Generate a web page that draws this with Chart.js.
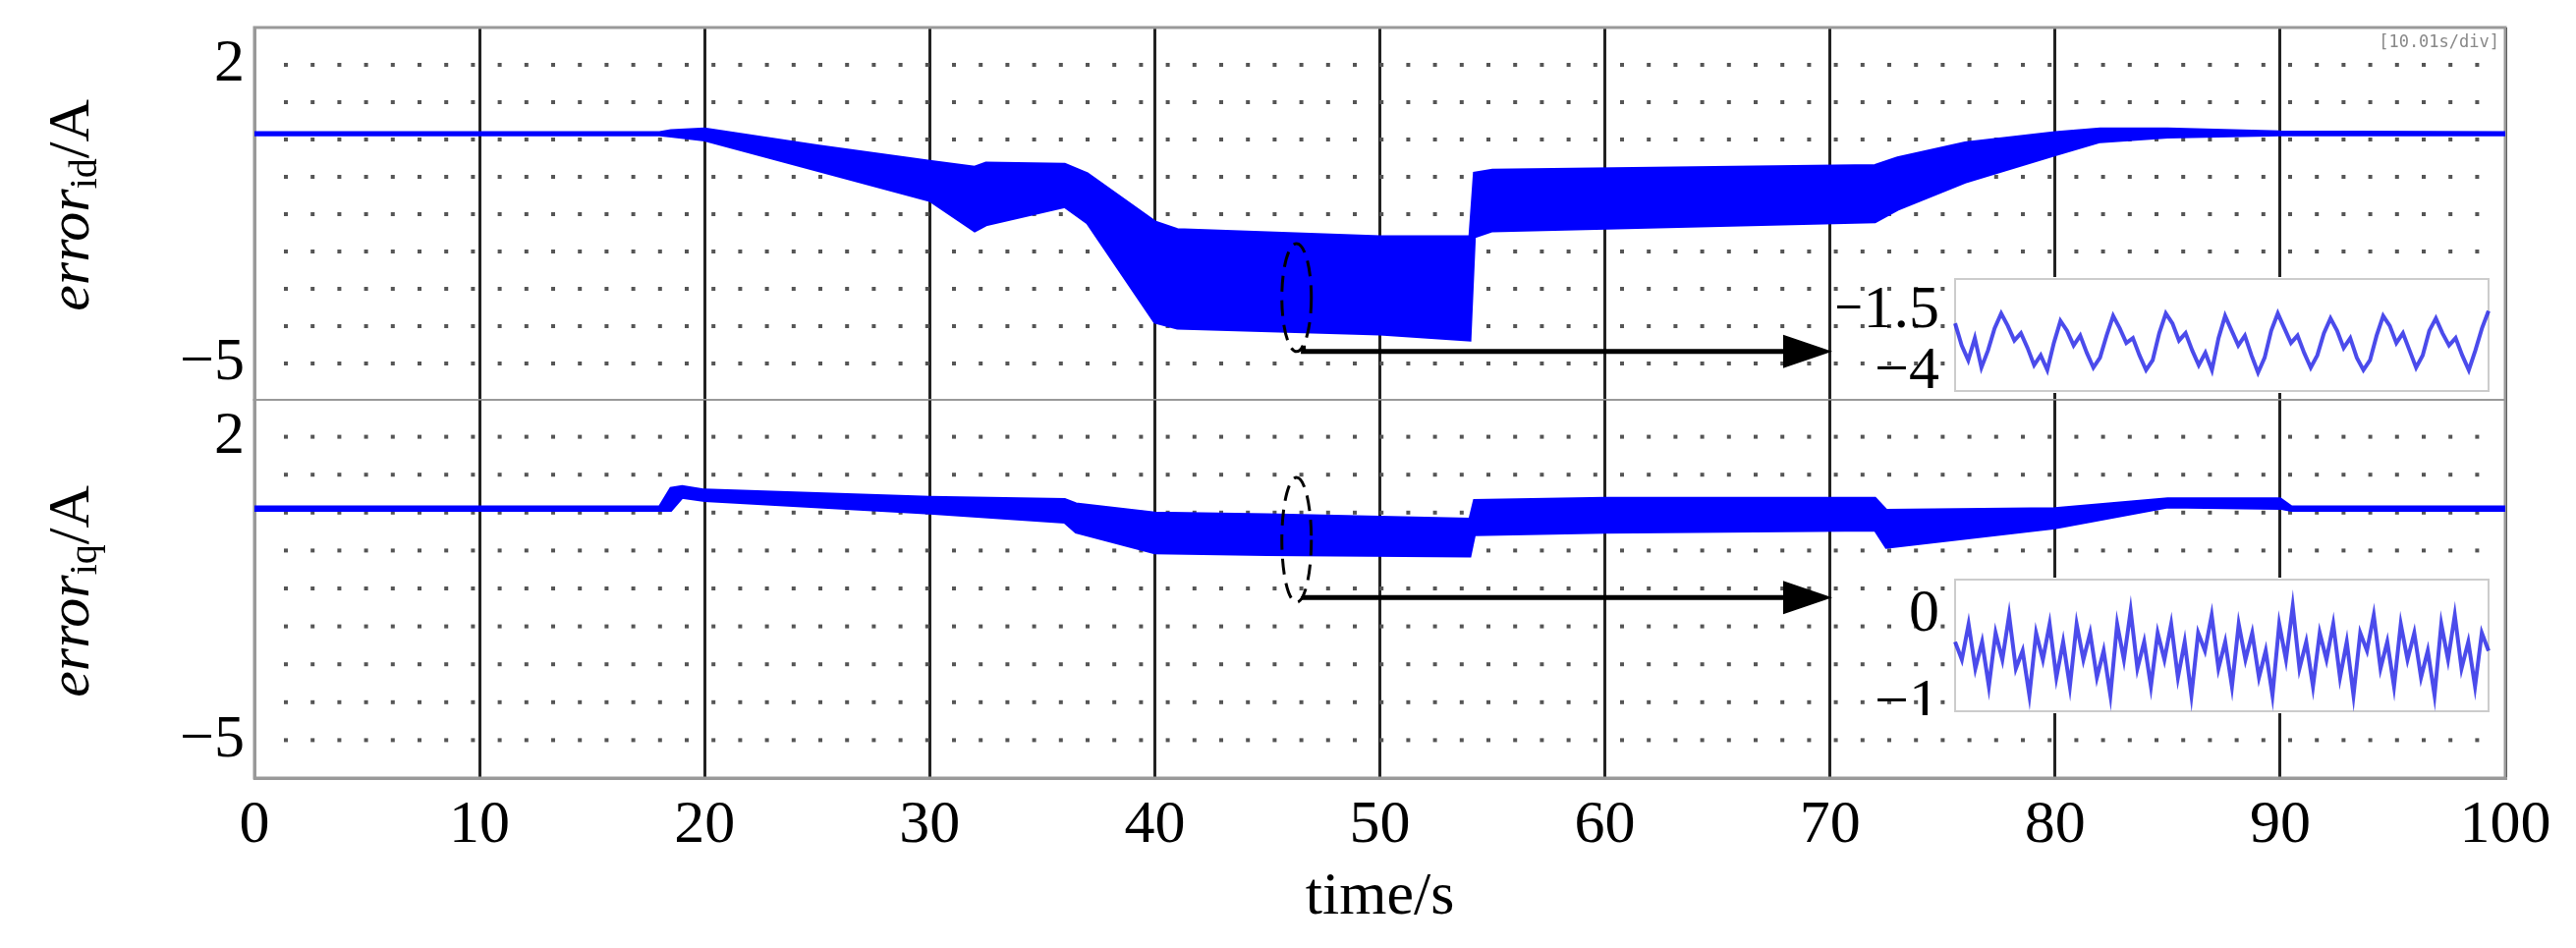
<!DOCTYPE html>
<html>
<head>
<meta charset="utf-8">
<script src="https://cdn.jsdelivr.net/npm/chart.js@4.4.1/dist/chart.umd.min.js"></script>
<style>
  body { margin: 0; background: #fff; width: 2622px; height: 965px; overflow: hidden; position: relative; }
  canvas { position: absolute; }
</style>
</head>
<body>
<canvas id="top" style="left:0;top:0"></canvas>
<canvas id="bot" style="left:0;top:406px"></canvas>
<canvas id="insTop" style="left:1870px;top:280px"></canvas>
<canvas id="insBot" style="left:1870px;top:586px"></canvas>
<script>
// envelope of error_id (upper / lower edge of the blue band)
const idTime  = [0, 18, 18.5, 20, 25, 30, 32, 32.5, 36, 37, 40, 41, 50, 54, 54.2, 55, 72, 73, 76, 80, 82, 85, 90, 100];
const idUpper = [0.41, 0.41, 0.46, 0.50, 0.10, -0.26, -0.40, -0.30, -0.33, -0.55, -1.68, -1.86, -2.03, -2.03, -0.54, -0.47, -0.36, -0.18, 0.17, 0.41, 0.50, 0.50, 0.43, 0.41];
const idLower = [0.36, 0.36, 0.33, 0.24, -0.47, -1.18, -1.89, -1.75, -1.32, -1.70, -4.03, -4.17, -4.31, -4.45, -2.03, -1.89, -1.68, -1.39, -0.75, -0.11, 0.20, 0.31, 0.36, 0.36];

// envelope of error_iq
const iqTime  = [0, 18, 18.5, 19, 20, 30, 36, 36.5, 40, 45, 54, 54.2, 60, 72, 72.5, 80, 85, 90, 90.5, 100];
const iqUpper = [0.38, 0.38, 0.81, 0.85, 0.77, 0.60, 0.55, 0.45, 0.24, 0.20, 0.10, 0.53, 0.58, 0.58, 0.30, 0.34, 0.57, 0.57, 0.38, 0.38];
const iqLower = [0.30, 0.30, 0.30, 0.60, 0.53, 0.24, 0.03, -0.20, -0.68, -0.72, -0.75, -0.26, -0.20, -0.15, -0.55, -0.10, 0.38, 0.35, 0.30, 0.30];

// zoomed insets
const insTopVals = [-2.0, -2.9, -3.5, -2.6, -3.8, -3.1, -2.2, -1.6, -2.1, -2.7, -2.4, -3.0, -3.7, -3.3, -3.9, -2.8,
  -1.9, -2.3, -2.9, -2.5, -3.2, -3.8, -3.4, -2.5, -1.7, -2.2, -2.8, -2.6, -3.3, -3.9, -3.5, -2.4,
  -1.6, -2.0, -2.7, -2.4, -3.1, -3.7, -3.2, -3.9, -2.6, -1.7, -2.3, -2.9, -2.5, -3.3, -4.0, -3.4,
  -2.3, -1.6, -2.2, -2.8, -2.5, -3.2, -3.8, -3.3, -2.4, -1.8, -2.3, -3.0, -2.6, -3.4, -3.9, -3.5,
  -2.5, -1.7, -2.1, -2.8, -2.4, -3.1, -3.8, -3.3, -2.3, -1.8, -2.4, -2.9, -2.6, -3.3, -3.9, -3.1, -2.2, -1.5];
const insBotVals = [-0.3, -0.5, -0.1, -0.6, -0.3, -0.8, -0.2, -0.5, 0.0, -0.6, -0.4, -0.9, -0.2, -0.5, -0.1, -0.7,
  -0.3, -0.8, -0.1, -0.5, -0.2, -0.7, -0.4, -0.9, -0.1, -0.5, 0.05, -0.6, -0.3, -0.8, -0.2, -0.5,
  -0.1, -0.7, -0.3, -0.9, -0.2, -0.4, 0.0, -0.6, -0.3, -0.8, -0.1, -0.5, -0.2, -0.7, -0.4, -0.9,
  -0.1, -0.5, 0.1, -0.6, -0.3, -0.8, -0.2, -0.5, -0.1, -0.7, -0.3, -0.9, -0.2, -0.4, 0.0, -0.6,
  -0.3, -0.8, -0.1, -0.5, -0.2, -0.7, -0.4, -0.9, -0.1, -0.5, 0.0, -0.6, -0.3, -0.8, -0.2, -0.4];

const xTicks = [0, 10, 20, 30, 40, 50, 60, 70, 80, 90, 100];
const yMin = -5.875, yMax = 2.875, yStep = 0.875;

const serif = '"Liberation Serif", "DejaVu Serif", serif';
const blue = '#0000ff';

function pts(xs, ys) { return xs.map((x, i) => ({ x: x, y: ys[i] })); }

function yLabel(v) {
  if (Math.abs(v - 2) < 0.01) return '2';
  if (Math.abs(v + 5) < 0.01) return '\u22125';
  return '';
}

function noPad(s) { s.paddingTop = 0; s.paddingBottom = 0; s.paddingLeft = 0; s.paddingRight = 0; }

// arrows, dashed ellipses and axis titles
function overlay(sub, arrowY, ellTop, ellBot, titleY, stamp) {
  return {
    id: 'overlay' + sub,
    afterDraw(chart) {
      const ctx = chart.ctx, xs = chart.scales.x, ys = chart.scales.y;
      ctx.save();
      const ex = xs.getPixelForValue(46.3);
      const eyT = ys.getPixelForValue(ellTop), eyB = ys.getPixelForValue(ellBot);
      ctx.strokeStyle = '#000';
      ctx.lineWidth = 3;
      ctx.setLineDash([16, 9]);
      ctx.beginPath();
      ctx.ellipse(ex, (eyT + eyB) / 2, 15, (eyB - eyT) / 2, 0, 0, Math.PI * 2);
      ctx.stroke();
      ctx.setLineDash([]);
      const ay = ys.getPixelForValue(arrowY);
      const ax0 = xs.getPixelForValue(46.6), ax1 = xs.getPixelForValue(70.1);
      ctx.lineWidth = 5;
      ctx.beginPath();
      ctx.moveTo(ax0, eyB - 6);
      ctx.lineTo(ax0, ay);
      ctx.lineTo(ax1 - 45, ay);
      ctx.stroke();
      ctx.fillStyle = '#000';
      ctx.beginPath();
      ctx.moveTo(ax1, ay);
      ctx.lineTo(ax1 - 50, ay - 17);
      ctx.lineTo(ax1 - 50, ay + 17);
      ctx.closePath();
      ctx.fill();
      // axis title
      ctx.translate(72, titleY);
      ctx.rotate(-Math.PI / 2);
      ctx.fillStyle = '#000';
      ctx.textBaseline = 'alphabetic';
      ctx.font = 'italic 60px ' + serif;
      const w1 = ctx.measureText('error').width;
      ctx.font = '40px ' + serif;
      const w2 = ctx.measureText(sub).width;
      ctx.font = '60px ' + serif;
      const w3 = ctx.measureText('/A').width;
      let x = -(w1 + w2 + w3) / 2;
      ctx.font = 'italic 60px ' + serif;
      ctx.fillText('error', x, 18); x += w1;
      ctx.font = '40px ' + serif;
      ctx.fillText(sub, x, 26); x += w2;
      ctx.font = '60px ' + serif;
      ctx.fillText('/A', x, 18);
      ctx.restore();
      if (stamp) {
        ctx.save();
        ctx.font = '17px "DejaVu Sans Mono", monospace';
        ctx.fillStyle = '#888';
        ctx.textAlign = 'right';
        ctx.fillText('[10.01s/div]', chart.chartArea.right - 6, chart.chartArea.top + 20);
        ctx.restore();
      }
    }
  };
}

function panel(id, h, pad, xh, times, up, lo, sub, arrowY, ellT, ellB, titleY, stamp, showX) {
  const cv = document.getElementById(id);
  cv.width = 2622; cv.height = h;
  cv.style.width = '2622px'; cv.style.height = h + 'px';
  return new Chart(cv, {
    type: 'line',
    data: {
      datasets: [
        { data: pts(times, up), borderColor: blue, backgroundColor: blue, borderWidth: 3, pointRadius: 0, fill: false },
        { data: pts(times, lo), borderColor: blue, backgroundColor: blue, borderWidth: 3, pointRadius: 0, fill: '-1' }
      ]
    },
    options: {
      responsive: false, animation: false, devicePixelRatio: 1,
      layout: { padding: { left: 0, right: 72, top: pad, bottom: 0 } },
      plugins: { legend: { display: false }, tooltip: { enabled: false } },
      scales: {
        x: {
          type: 'linear', min: 0, max: 100,
          afterBuildTicks: s => { s.ticks = xTicks.map(v => ({ value: v })); },
          afterFit: s => { s.height = xh; noPad(s); },
          grid: { color: '#222', lineWidth: 3, drawTicks: false },
          border: { color: '#999', width: 3 },
          ticks: { display: showX, font: { family: serif, size: 62 }, color: '#000', padding: 12, maxRotation: 0, autoSkip: false },
          title: { display: showX, text: 'time/s', font: { family: serif, size: 62 }, color: '#000', padding: { top: 0, bottom: 14 } }
        },
        y: {
          min: yMin, max: yMax,
          afterBuildTicks: s => { const t = []; for (let k = 0; k <= 10; k++) t.push({ value: yMin + k * yStep }); s.ticks = t; },
          afterFit: s => { s.width = 259; noPad(s); },
          grid: { color: 'rgba(0,0,0,0)', drawTicks: false },
          border: { color: '#999', width: 3 },
          ticks: { callback: yLabel, font: { family: serif, size: 62 }, color: '#000', padding: 10, autoSkip: false }
        }
      }
    },
    plugins: [overlay(sub, arrowY, ellT, ellB, titleY, stamp), {
      id: 'dots',
      beforeDatasetsDraw(chart) {
        // dotted horizontal division lines, as on the scope screen, and the grey frame
        const ctx = chart.ctx, a = chart.chartArea, ys = chart.scales.y;
        ctx.save();
        ctx.fillStyle = '#555';
        for (let k = 1; k < 10; k++) {
          const y = ys.getPixelForValue(yMin + k * yStep);
          for (let x = a.left + 32; x < a.right - 10; x += 27.2) ctx.fillRect(x - 2, y - 2, 4, 4);
        }
        ctx.strokeStyle = '#999';
        ctx.lineWidth = 3;
        ctx.strokeRect(a.left, a.top, a.width, a.height);
        ctx.restore();
      }
    }]
  });
}

const chartTop = panel('top', 408, 28, 0, idTime, idUpper, idLower, 'id', -4.72, -2.19, -4.72, 209, true, false);
const chartBot = panel('bot', 559, 0, 173, iqTime, iqUpper, iqLower, 'iq', -1.71, 1.06, -1.82, 196, false, true);

function inset(id, h, vals, min, max, labels) {
  const cv = document.getElementById(id);
  cv.width = 680; cv.height = h;
  cv.style.width = '680px'; cv.style.height = h + 'px';
  new Chart(cv, {
    type: 'line',
    data: { labels: vals.map((_, i) => i), datasets: [{ data: vals, borderColor: 'rgba(30,30,230,0.8)', borderWidth: 4, pointRadius: 0, tension: 0 }] },
    options: {
      responsive: false, animation: false, devicePixelRatio: 1,
      layout: { padding: { left: 0, right: 17, top: 4, bottom: 4 } },
      plugins: { legend: { display: false }, tooltip: { enabled: false } },
      scales: {
        x: { display: true, grid: { display: false }, ticks: { display: false }, border: { color: '#ccc', width: 2 }, afterFit: s => { s.height = 0; noPad(s); } },
        y: {
          min: min, max: max,
          afterBuildTicks: s => { s.ticks = labels.map(v => ({ value: v })); },
          afterFit: s => { s.width = 120; noPad(s); },
          grid: { display: false },
          border: { color: '#ccc', width: 2 },
          ticks: { font: { family: serif, size: 62 }, color: '#000', padding: 8, autoSkip: false, callback: v => String(v).replace('-', '\u2212') }
        }
      }
    },
    plugins: [{
      id: 'bg',
      beforeDraw(chart) {
        const a = chart.chartArea, ctx = chart.ctx;
        ctx.save(); ctx.fillStyle = '#fff';
        ctx.fillRect(a.left - 2, a.top - 2, a.width + 4, a.height + 4);
        ctx.strokeStyle = '#ccc'; ctx.lineWidth = 2; ctx.strokeRect(a.left, a.top, a.width, a.height);
        ctx.restore();
      }
    }]
  });
}

inset('insTop', 122, insTopVals, -4.75, -0.2, [-1.5, -4]);
inset('insBot', 142, insBotVals, -1.08, 0.4, [0, -1]);
</script>
</body>
</html>
